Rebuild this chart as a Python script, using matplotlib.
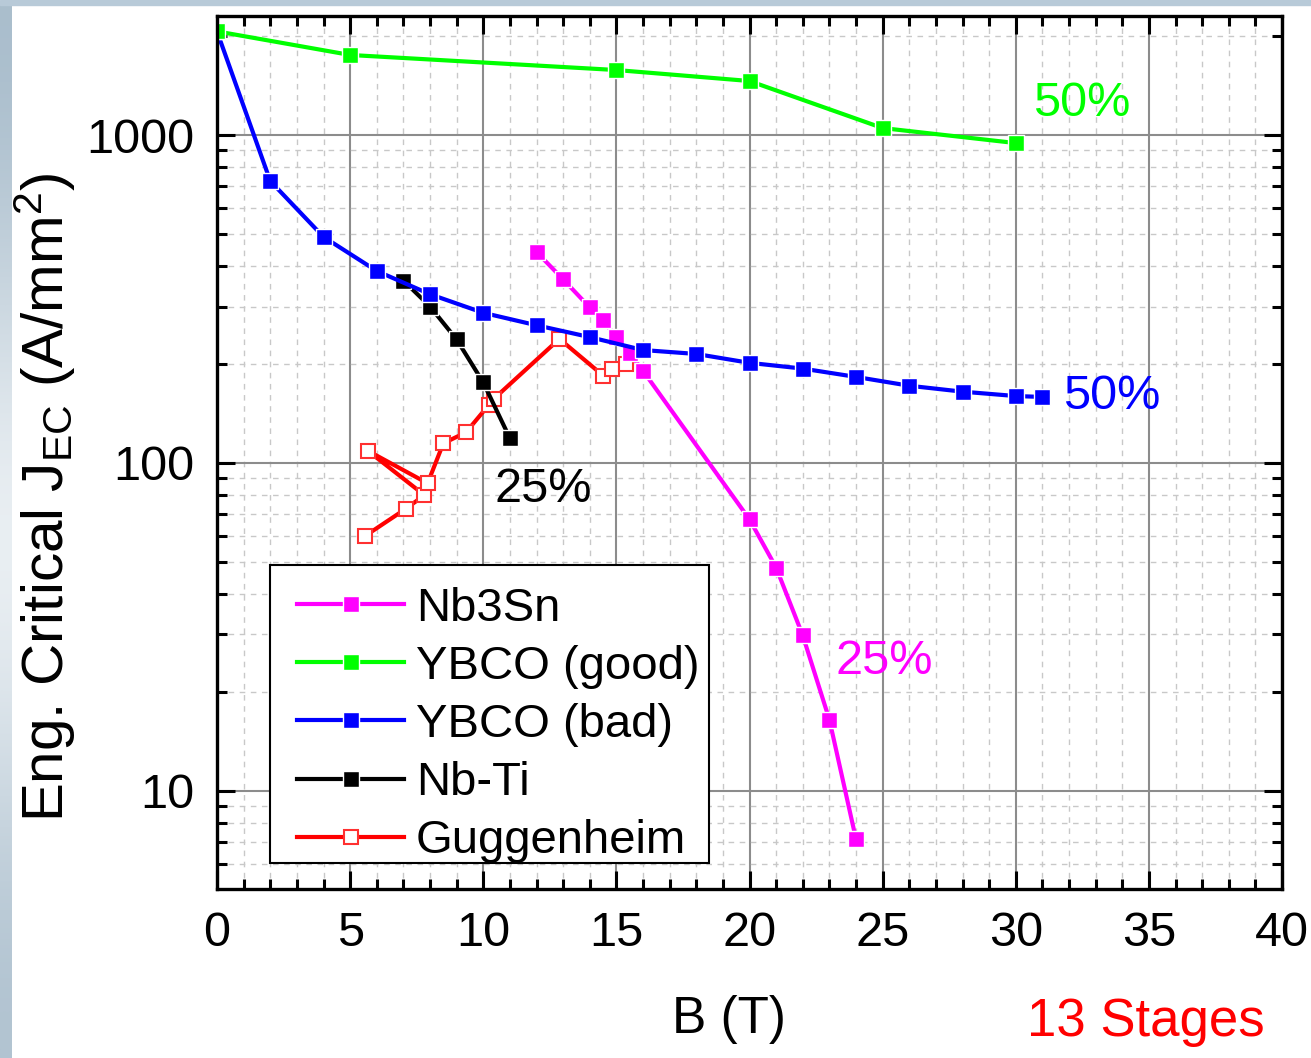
import matplotlib.pyplot as plt
import numpy as np
from matplotlib.ticker import MultipleLocator, LogLocator, NullFormatter

plt.rcParams['font.family'] = ['Liberation Sans', 'DejaVu Sans']
plt.rcParams['mathtext.default'] = 'regular'

# Engineering critical current density vs field, per conductor
nb3sn_b = [12, 13, 14, 14.5, 15, 15.5, 16, 20, 21, 22, 23, 24]
nb3sn_j = [440, 363, 298, 272, 242, 216, 191, 67.3, 48, 29.8, 16.5, 7.13]

ybco_good_b = [0, 5, 15, 20, 25, 30]
ybco_good_j = [2070, 1754, 1578, 1461, 1050, 945]

ybco_bad_b = [0, 2, 4, 6, 8, 10, 12, 14, 16, 18, 20, 22, 24, 26, 28, 30, 31]
ybco_bad_j = [2070, 724, 489, 385, 327, 287, 263, 242, 221, 215, 202, 194,
              183, 172, 165, 160, 159]

nbti_b = [7, 8, 9, 10, 11]
nbti_j = [360, 300, 238, 176, 119]

gugg_b = [5.56, 7.08, 7.79, 5.66, 7.91, 8.5, 9.35, 10.2, 10.4, 12.86, 14.51, 14.82, 15.36]
gugg_j = [59.9, 72.4, 79.8, 109, 86.7, 114.8, 124, 150, 157, 239, 184.5, 193, 200]

fig = plt.figure(figsize=(13.11, 10.58), dpi=100)
ax = fig.add_axes([217 / 1311, 1 - 889 / 1058, 1065 / 1311, 873 / 1058])

# slide background strips along the top and left edges
fig.patches.append(plt.Rectangle((0, 1 - 5 / 1058), 1, 5 / 1058, transform=fig.transFigure,
                                 color='#b8cad8', zorder=0))
strip = fig.add_axes([0, 0, 12 / 1311, 1 - 5 / 1058])
grad = np.array([[0.0], [0.5], [1.0], [0.6], [0.1]])
strip.imshow(grad, aspect='auto', cmap=plt.matplotlib.colors.LinearSegmentedColormap.from_list(
    'edge', ['#a9bdcc', '#f4f7f9']), interpolation='bicubic')
strip.axis('off')

lw = 3
ms = 11
sq = dict(marker='s', markersize=ms, markeredgecolor='white', markeredgewidth=1.0)

h_gugg, = ax.plot(gugg_b, gugg_j, color='#ff0000', lw=lw, marker='s', markersize=ms - 1,
                  markerfacecolor='white', markeredgecolor='#ff3030', markeredgewidth=1.5,
                  label='Guggenheim')
h_nbti, = ax.plot(nbti_b, nbti_j, color='black', lw=lw, label='Nb-Ti', **sq)
h_nb3sn, = ax.plot(nb3sn_b, nb3sn_j, color='#ff00ff', lw=lw, label='Nb3Sn', **sq)
h_bad, = ax.plot(ybco_bad_b, ybco_bad_j, color='#0000ff', lw=lw, label='YBCO (bad)', **sq)
h_good, = ax.plot(ybco_good_b, ybco_good_j, color='#00ff00', lw=lw, label='YBCO (good)', **sq)

ax.set_yscale('log')
ax.set_xlim(0, 40)
ax.set_ylim(5.025, 2306)
ax.set_xticks(range(0, 41, 5))
ax.xaxis.set_minor_locator(MultipleLocator(1))
ax.set_yticks([10, 100, 1000])
ax.set_yticklabels(['10', '100', '1000'])
ax.yaxis.set_minor_locator(LogLocator(base=10, subs=np.arange(2, 10)))
ax.yaxis.set_minor_formatter(NullFormatter())

ax.set_axisbelow(True)
ax.grid(which='major', color='#8c8c8c', lw=1.5, ls='-')
ax.grid(which='minor', color='#c8c8c8', lw=1.0, ls=(0, (4, 4)))

ax.tick_params(which='both', direction='in', top=True, right=True, width=2.2,
               labelsize=35, colors='black')
ax.tick_params(which='major', length=13, pad=16)
ax.tick_params(which='minor', length=7.5)
for s in ax.spines.values():
    s.set_linewidth(2.4)

# percentage annotations beside each curve
ax.text(30.64, 1250, '50%', color='#00ff00', fontsize=35, va='center', ha='left')
ax.text(31.77, 159, '50%', color='#0000ff', fontsize=35, va='center', ha='left')
ax.text(10.44, 83, '25%', color='black', fontsize=35, va='center', ha='left')
ax.text(23.24, 24.8, '25%', color='#ff00ff', fontsize=35, va='center', ha='left')

fig.text(729 / 1311, 1 - 1020 / 1058, 'B (T)', fontsize=37, ha='center', va='center')
fig.text(1027 / 1311, 1 - 1022 / 1058, '13 Stages', fontsize=38, color='#ff0000',
         ha='left', va='center')
fig.text(45 / 1311, 1 - 497 / 1058, r'Eng. Critical J$_{EC}$ (A/mm$^{2}$)', fontsize=42,
         rotation=90, ha='center', va='center')

# legend box drawn as its own patch so the entries can sit freely inside it
ax.add_patch(plt.Rectangle((53 / 1065, 26 / 873), 439 / 1065, 298 / 873,
                           transform=ax.transAxes, facecolor='white', edgecolor='black',
                           lw=1.5, zorder=4.5))
leg = ax.legend(handles=[h_nb3sn, h_good, h_bad, h_nbti, h_gugg], loc='upper left',
                bbox_to_anchor=(80 / 1065, 0.3464), borderaxespad=0, fontsize=34,
                frameon=False, handlelength=2.27, handletextpad=0.25,
                labelspacing=0.30, borderpad=0)
leg.set_zorder(5)

fig.savefig('out.png', dpi=100)
